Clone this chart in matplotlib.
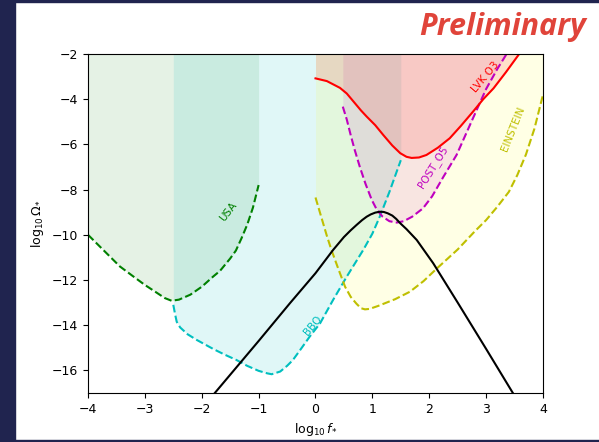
import matplotlib
matplotlib.use("Agg")
import matplotlib.pyplot as plt
from matplotlib.patches import Rectangle

# --- curves (log10 f, log10 Omega) ---
usa_x = [-4.0, -3.8, -3.6, -3.44, -3.2, -3.0, -2.8, -2.65, -2.53, -2.4, -2.2, -2.0, -1.8, -1.68,
         -1.5, -1.4, -1.3, -1.2, -1.1, -1.0]
usa_y = [-10.0, -10.5, -11.0, -11.4, -11.85, -12.22, -12.55, -12.8, -12.92, -12.87, -12.65, -12.3,
         -11.85, -11.6, -11.05, -10.7, -10.15, -9.55, -8.8, -7.8]

bbo_x = [-2.5, -2.47, -2.44, -2.38, -2.25, -2.09, -1.8, -1.6, -1.39, -1.2, -1.0, -0.85, -0.77,
         -0.62, -0.5, -0.4, -0.27, -0.1, 0.08, 0.31, 0.55, 0.84, 1.0, 1.13, 1.3, 1.5]
bbo_y = [-13.1, -13.5, -13.85, -14.1, -14.4, -14.65, -15.05, -15.3, -15.54, -15.8, -16.02, -16.13,
         -16.17, -16.05, -15.8, -15.55, -15.1, -14.5, -13.92, -12.88, -11.85, -10.67, -9.95, -9.2,
         -8.1, -6.7]

et_x = [0.0, 0.1, 0.2, 0.28, 0.4, 0.52, 0.62, 0.72, 0.8, 0.87, 0.95, 1.1, 1.4, 1.66, 1.9, 2.13,
        2.5, 2.8, 3.0, 3.2, 3.4, 3.55, 3.7, 3.85, 4.0]
et_y = [-8.35, -9.2, -10.05, -10.67, -11.5, -12.3, -12.75, -13.05, -13.25, -13.3, -13.28, -13.15,
        -12.85, -12.52, -12.05, -11.5, -10.65, -9.85, -9.35, -8.75, -8.1, -7.35, -6.45, -5.3, -3.8]

o5_x = [0.48, 0.55, 0.62, 0.69, 0.78, 0.88, 0.99, 1.08, 1.18, 1.3, 1.43, 1.55, 1.7, 1.89, 2.05,
        2.25, 2.48, 2.75, 3.0, 3.2, 3.36]
o5_y = [-4.33, -4.9, -5.6, -6.25, -7.0, -7.75, -8.46, -8.9, -9.2, -9.4, -9.46, -9.4, -9.2, -8.83,
        -8.3, -7.43, -6.47, -4.95, -3.55, -2.65, -2.0]

lvk_x = [0.0, 0.2, 0.43, 0.55, 0.67, 0.8, 0.9, 1.05, 1.19, 1.35, 1.49, 1.6, 1.69, 1.82, 1.95, 2.15,
         2.36, 2.55, 2.77, 2.95, 3.13, 3.35, 3.57]
lvk_y = [-3.08, -3.2, -3.5, -3.75, -4.11, -4.5, -4.77, -5.15, -5.58, -6.05, -6.39, -6.55, -6.6,
         -6.58, -6.47, -6.15, -5.73, -5.2, -4.55, -4.0, -3.52, -2.8, -2.04]

sig_x = [-1.77, -1.0, -0.45, 0.0, 0.31, 0.5, 0.62, 0.72, 0.82, 0.9, 0.97, 1.05, 1.13, 1.2, 1.27,
         1.35, 1.42, 1.49, 1.6, 1.78, 2.07, 2.5, 3.0, 3.47]
sig_y = [-17.0, -14.7, -13.03, -11.7, -10.67, -10.1, -9.8, -9.57, -9.35, -9.2, -9.1, -9.02, -8.98,
         -8.99, -9.05, -9.15, -9.3, -9.49, -9.75, -10.23, -11.26, -13.0, -15.05, -17.0]

YTOP = -2

fig = plt.figure(figsize=(5.99, 4.42), dpi=100)
ax = fig.add_axes([0.1469, 0.1109, 0.7596, 0.7670])

# shaded sensitivity regions
ax.fill_between(usa_x, usa_y, YTOP, color='g', alpha=0.1, lw=0)
ax.fill_between(bbo_x, bbo_y, YTOP, color='c', alpha=0.12, lw=0)
ax.fill_between(et_x, et_y, YTOP, color='yellow', alpha=0.1, lw=0)
ax.fill_between(o5_x, o5_y, YTOP, color='m', alpha=0.1, lw=0)
ax.fill_between(lvk_x, lvk_y, YTOP, color='r', alpha=0.12, lw=0)

ax.plot(usa_x, usa_y, 'g--', lw=1.5)
ax.plot(bbo_x, bbo_y, 'c--', lw=1.5)
ax.plot(et_x, et_y, 'y--', lw=1.5)
ax.plot(o5_x, o5_y, 'm--', lw=1.5)
ax.plot(lvk_x, lvk_y, 'r-', lw=1.5)
ax.plot(sig_x, sig_y, 'k-', lw=1.5)

ax.text(-1.54, -9.0, 'USA', color='g', fontsize=7.5, rotation=52, ha='center', va='center')
ax.text(-0.04, -14.0, 'BBO', color='c', fontsize=7.5, rotation=50, ha='center', va='center')
ax.text(2.07, -7.0, 'POST_O5', color='m', fontsize=7.5, rotation=58, ha='center', va='center')
ax.text(2.98, -3.0, 'LVK O3', color='r', fontsize=7.5, rotation=50, ha='center', va='center')
ax.text(3.47, -5.3, 'EINSTEIN', color='y', fontsize=7.5, rotation=68, ha='center', va='center')

ax.set_xlim(-4, 4)
ax.set_ylim(-17, -2)
ax.set_xticks(range(-4, 5))
ax.set_yticks(range(-16, -1, 2))
ax.tick_params(labelsize=9)
ax.set_xlabel(r'$\log_{10} f_{*}$', fontsize=9)
ax.set_ylabel(r'$\log_{10} \Omega_{*}$', fontsize=9)

# slide decoration
navy = '#20244f'
fig.patches.append(Rectangle((0, 0), 15 / 599, 1, transform=fig.transFigure, color=navy, zorder=5))
fig.patches.append(Rectangle((0, 1 - 1.5 / 442), 1, 1.5 / 442, transform=fig.transFigure, color=navy, zorder=5))
fig.patches.append(Rectangle((0, 0), 1, 2 / 442, transform=fig.transFigure, color=navy, zorder=5))

fig.text(0.978, 0.94, 'Preliminary', color='#e0443a', fontsize=22, fontweight='bold',
         fontstyle='italic', family='Open Sans', ha='right', va='center')

fig.savefig('out.png', dpi=100)
